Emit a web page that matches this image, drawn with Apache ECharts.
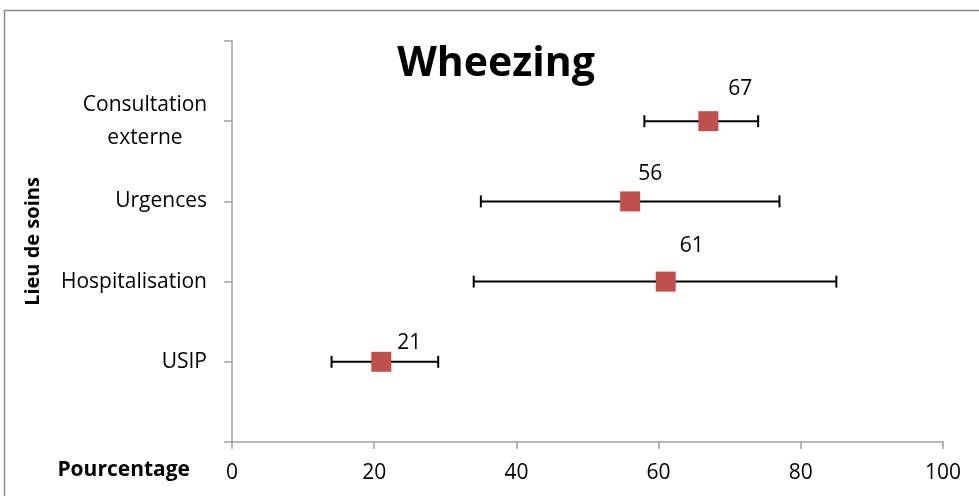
<!DOCTYPE html>
<html>
<head>
<meta charset="utf-8">
<script src="https://cdn.jsdelivr.net/npm/echarts@6/dist/echarts.min.js"></script>
<style>html,body{margin:0;padding:0;background:#fff}#c{width:979px;height:496px}</style>
</head>
<body>
<div id="c"></div>
<script>
var categories = ['USIP', 'Hospitalisation', 'Urgences', 'Consultation\nexterne'];
var values = [21, 61, 56, 67];
var lower = [14, 34, 35, 58];
var upper = [29, 85, 77, 74];
var xTicks = [0, 20, 40, 60, 80, 100];

var FONT = 'Open Sans';
var chart = echarts.init(document.getElementById('c'));

// label placement (style), as in the original, relative to marker centre
var labelOffsets = [[28, -19], [26, -36], [20, -27], [32, -32]];

var pts = values.map(function (v, i) {
  return { value: [v, i + 1], label: { offset: labelOffsets[i] } };
});
var bars = values.map(function (v, i) { return [lower[i], upper[i], i + 1]; });

chart.setOption({
  animation: false,
  backgroundColor: '#fff',
  textStyle: { fontFamily: FONT },
  title: {
    text: 'Wheezing', left: 491, top: 39, textAlign: 'center',
    textStyle: { fontFamily: FONT, fontWeight: 'bold', fontSize: 41, color: '#000' }
  },
  graphic: [
    { type: 'rect', shape: { x: 4.5, y: 10.5, width: 1000, height: 600 },
      style: { fill: 'none', stroke: '#888', lineWidth: 1.5 }, silent: true },
    { type: 'text', right: 979 - 190, top: 460,
      style: { text: 'Pourcentage', font: 'bold 21px "' + FONT + '"', fill: '#000' } }
  ],
  grid: { left: 232, right: 36, top: 41, bottom: 54 },
  xAxis: {
    type: 'value', min: 0, max: 100, interval: 20,
    axisLine: { show: true, lineStyle: { color: '#a0a0a0', width: 1.5 } },
    axisTick: { show: true, length: 7, lineStyle: { color: '#a0a0a0', width: 1.5 } },
    splitLine: { show: false },
    axisLabel: { margin: 21, fontSize: 21, color: '#000', fontFamily: FONT,
      formatter: function (v) { return xTicks.indexOf(v) >= 0 ? String(v) : ''; } }
  },
  yAxis: {
    type: 'value', min: 0, max: 5, interval: 1,
    name: 'Lieu de soins', nameLocation: 'middle', nameGap: 189, nameRotate: 90,
    nameTextStyle: { fontFamily: FONT, fontWeight: 'bold', fontSize: 20, color: '#000' },
    axisLine: { show: true, lineStyle: { color: '#a0a0a0', width: 1.5 } },
    axisTick: { show: true, length: 8, lineStyle: { color: '#a0a0a0', width: 1.5 } },
    splitLine: { show: false },
    axisLabel: { margin: 25, fontSize: 21, color: '#000', fontFamily: FONT, align: 'right', lineHeight: 33,
      formatter: function (v) {
        if (v < 1 || v > categories.length) return '';
        var parts = categories[v - 1].split('\n');
        if (parts.length === 1) return parts[0];
        return parts.map(function (s) { return '{c|' + s + '}'; }).join('\n');
      },
      rich: { c: { width: 124, align: 'center', fontSize: 21, lineHeight: 33, fontFamily: FONT, color: '#000' } }
    }
  },
  series: [
    {
      type: 'custom',
      renderItem: function (params, api) {
        var a = api.coord([api.value(0), api.value(2)]);
        var b = api.coord([api.value(1), api.value(2)]);
        var h = 6;
        var st = { stroke: '#000', lineWidth: 2 };
        return { type: 'group', children: [
          { type: 'line', shape: { x1: a[0], y1: a[1], x2: b[0], y2: b[1] }, style: st },
          { type: 'line', shape: { x1: a[0], y1: a[1] - h, x2: a[0], y2: a[1] + h }, style: st },
          { type: 'line', shape: { x1: b[0], y1: b[1] - h, x2: b[0], y2: b[1] + h }, style: st }
        ] };
      },
      encode: { x: [0, 1], y: 2 },
      data: bars, z: 2
    },
    {
      type: 'scatter', symbol: 'rect', symbolSize: 20,
      itemStyle: { color: '#C0504D', opacity: 1 },
      label: { show: true, position: 'inside', fontSize: 21, color: '#000', fontFamily: FONT,
        formatter: function (p) { return String(p.value[0]); } },
      data: pts, z: 3
    }
  ]
});
</script>
</body>
</html>
